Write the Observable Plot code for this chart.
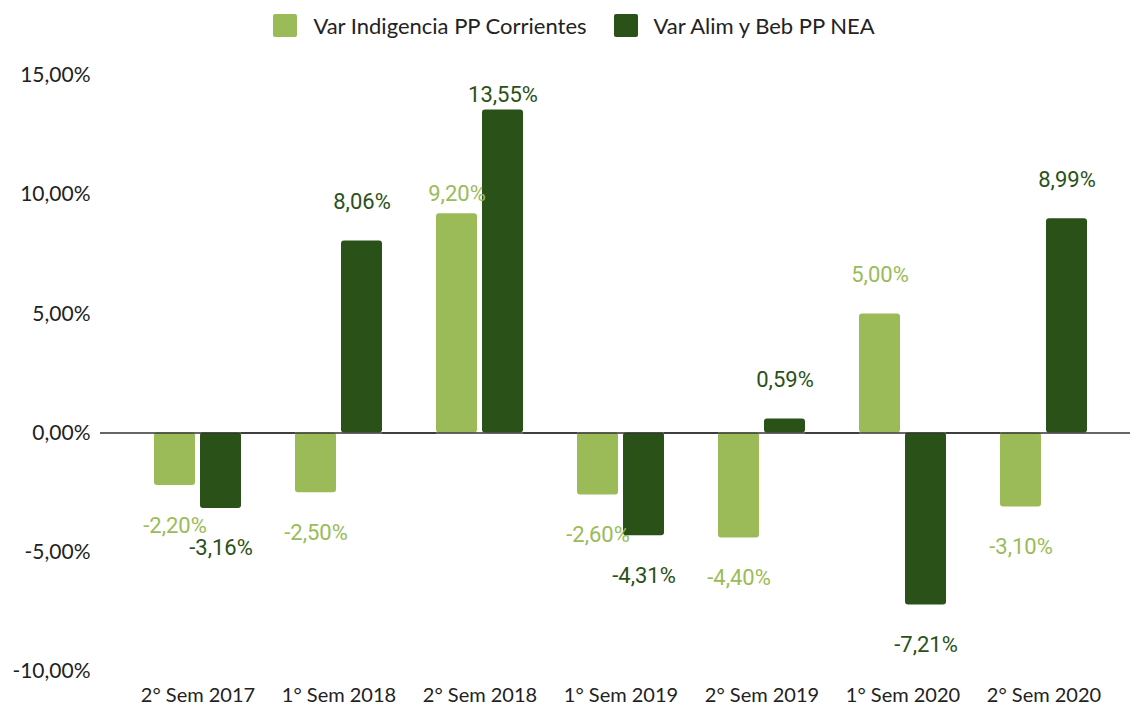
<!DOCTYPE html>
<html>
<head>
<meta charset="utf-8">
<script src="https://cdn.jsdelivr.net/npm/d3@7"></script>
<script src="https://cdn.jsdelivr.net/npm/@observablehq/plot@0.6"></script>
<style>
  html, body { margin: 0; padding: 0; background: #fff; }
  #legend { height: 50px; display: flex; justify-content: center; align-items: center; gap: 27px; font-family: Lato, "Open Sans", sans-serif; font-size: 22px; color: #222; padding-left: 18px; box-sizing: border-box; }
  .item { display: flex; align-items: center; gap: 16px; }
  .sw { width: 24px; height: 23px; border-radius: 2px; display: inline-block; }
</style>
</head>
<body>
<div id="legend"></div>
<div id="chart"></div>
<script>
const periods = ["2° Sem 2017", "1° Sem 2018", "2° Sem 2018", "1° Sem 2019", "2° Sem 2019", "1° Sem 2020", "2° Sem 2020"];
const seriesNames = ["Var Indigencia PP Corrientes", "Var Alim y Beb PP NEA"];
const indigencia = [-2.20, -2.50, 9.20, -2.60, -4.40, 5.00, -3.10];
const alimBeb = [-3.16, 8.06, 13.55, -4.31, 0.59, -7.21, 8.99];
const yTicks = [-10, -5, 0, 5, 10, 15];
const colors = ["#9bbb59", "#2a5118"];

const data = [];
periods.forEach((p, i) => {
  data.push({period: p, series: seriesNames[0], value: indigencia[i], other: alimBeb[i], idx: 0});
  data.push({period: p, series: seriesNames[1], value: alimBeb[i], other: indigencia[i], idx: 1});
});

const fmt = v => v.toFixed(2).replace(".", ",") + "%";

// label placement rule (like the source chart): near the top it hugs the bar,
// a positive label beside a taller neighbour sits lower, otherwise a fixed gap
const placement = d => {
  if (d.value < 0) return "below";
  if (d.value > 12) return "top";
  if (d.idx === 0 && d.other > d.value) return "beside";
  return "above";
};

const legend = document.getElementById("legend");
seriesNames.forEach((s, i) => {
  const it = document.createElement("div");
  it.className = "item";
  it.innerHTML = `<span class="sw" style="background:${colors[i]}"></span><span>${s}</span>`;
  legend.appendChild(it);
});

const labelFont = {fontFamily: "Roboto, sans-serif", fontSize: 22};
const lbl = (kind, dy) => Plot.text(data.filter(d => placement(d) === kind), {fx: "period", x: "series", y: "value", text: d => fmt(d.value), fill: "series", dy, ...labelFont});

const chart = Plot.plot({
  width: 1130,
  height: 657,
  marginTop: 25,
  marginBottom: 36,
  marginLeft: 101,
  marginRight: 0,
  style: {fontFamily: "Lato, sans-serif", fontSize: "20px", color: "#222", background: "#fff"},
  fx: {domain: periods, paddingInner: 0.383, paddingOuter: 0.333, align: 0.55, label: null},
  x: {domain: seriesNames, paddingInner: 0.11, paddingOuter: 0, axis: null},
  y: {domain: [-10, 15], label: null},
  color: {domain: seriesNames, range: colors},
  marks: [
    Plot.axisFx({anchor: "bottom", tickSize: 0, tickPadding: 16, label: null, fontSize: 20, fontFamily: "Lato, sans-serif"}),
    Plot.axisY(yTicks, {tickFormat: fmt, tickSize: 0, tickPadding: 64, label: null, fontSize: 21, fontFamily: "Lato, sans-serif"}),
    Plot.barY(data, {fx: "period", x: "series", y: "value", fill: "series", rx: 3}),
    Plot.ruleY([0], {stroke: "#333", strokeWidth: 1.5, insetLeft: -54, insetRight: -54}),
    lbl("above", -39),
    lbl("top", -15),
    lbl("beside", -20),
    lbl("below", 40)
  ]
});
document.getElementById("chart").appendChild(chart);
</script>
</body>
</html>
